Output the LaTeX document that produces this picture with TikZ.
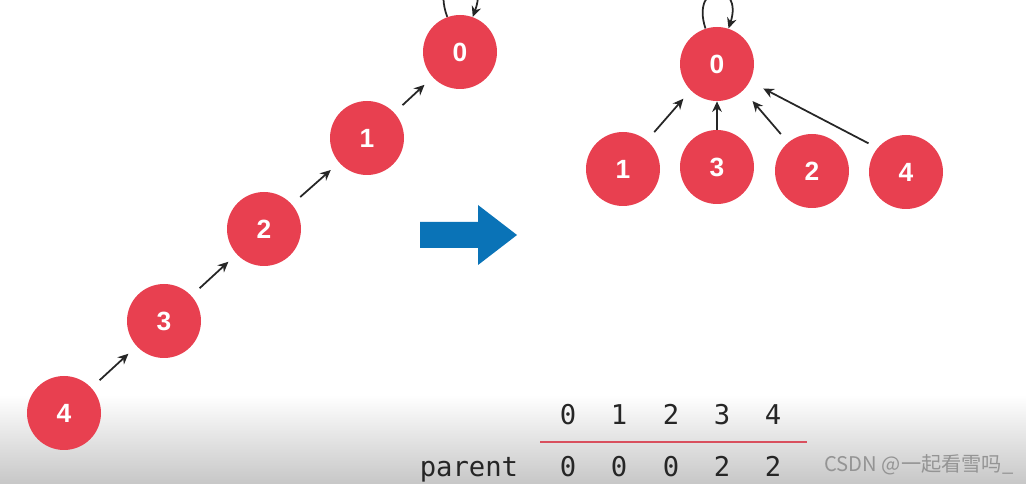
\documentclass[tikz,border=0pt]{standalone}
\usepackage{fontspec}
\setmainfont{Liberation Sans}
\newfontfamily\tablefont{DejaVu Sans Mono}
\newfontfamily\cjkfont{Noto Sans CJK SC}
\usetikzlibrary{arrows.meta}
\definecolor{nodered}{RGB}{232,64,80}
\definecolor{arrowblue}{RGB}{10,115,183}
\definecolor{rulered}{RGB}{217,80,94}
\begin{document}
\begin{tikzpicture}[
  vert/.style={circle, fill=nodered, minimum size=1.48cm, inner sep=0pt,
               text=white, font=\fontsize{15}{15}\selectfont\bfseries},
  arr/.style={draw=black!85, line width=1pt, -{Stealth[length=6pt,width=5.5pt]},
              shorten <=0.22cm, shorten >=0.22cm},
  loopy/.style={draw=black!85, line width=1pt, -{Stealth[length=6pt,width=5.5pt]}},
  idx/.style={anchor=base, font=\tablefont\fontsize{15.5}{15.5}\selectfont, text=black!85},
  bigarrow/.style={fill=arrowblue}
]
\useasboundingbox (0,0) rectangle (20.52,-9.68);

% grey band at the bottom
\shade[top color=white, bottom color=black!22] (0,-7.9) rectangle (20.52,-9.68);

% chain before
\node[vert] (l0) at (9.20,-1.04) {0};
\node[vert] (l1) at (7.34,-2.76) {1};
\node[vert] (l2) at (5.28,-4.58) {2};
\node[vert] (l3) at (3.28,-6.42) {3};
\node[vert] (l4) at (1.28,-8.26) {4};

\foreach \a/\b in {l4/l3, l3/l2, l2/l1, l1/l0} {
  \draw[arr] (\a) -- (\b);
}
\draw[loopy] (l0.110) .. controls +(110:1.15) and +(70:1.15) .. (l0.70);

% big arrow
\fill[bigarrow] (8.40,-4.44) -- (9.56,-4.44) -- (9.56,-4.10) -- (10.34,-4.70)
  -- (9.56,-5.30) -- (9.56,-4.96) -- (8.40,-4.96) -- cycle;

% tree after
\node[vert] (r0) at (14.34,-1.28) {0};
\node[vert] (r1) at (12.46,-3.38) {1};
\node[vert] (r3) at (14.34,-3.34) {3};
\node[vert] (r2) at (16.24,-3.42) {2};
\node[vert] (r4) at (18.12,-3.44) {4};

\draw[arr] (r1.50) -- (r0.225);
\draw[arr, shorten <=0pt, shorten >=0pt] (r3.north) -- (r0.south);
\draw[arr, shorten >=0.28cm] (r2.130) -- (r0.-45);
\draw[arr, shorten <=0.2cm, shorten >=0.3cm] (r4.140) -- (r0.-28);
\draw[loopy] (r0.108) .. controls +(108:1.0) and +(72:1.0) .. (r0.72);

% parent array
\foreach \i/\x in {0/11.36, 1/12.38, 2/13.42, 3/14.44, 4/15.46} {
  \node[idx] (i\i) at (\x,-8.50) {\i};
}
\foreach \i/\x/\v in {0/11.36/0, 1/12.38/0, 2/13.42/0, 3/14.44/2, 4/15.46/2} {
  \node[idx] (p\i) at (\x,-9.52) {\v};
}
\node[idx, anchor=base east, inner sep=0pt] (plabel) at (10.37,-9.52) {parent};
\coordinate (rulel) at (10.80,-8.84);
\coordinate (ruler) at (16.14,-8.84);
\draw[rulered, line width=1.4pt] (rulel) -- (ruler);

% watermark
\node[text=black!42, font=\cjkfont\fontsize{11.5}{11.5}\selectfont] (mark) at (18.38,-9.30)
  {CSDN @一起看雪吗\_};
\end{tikzpicture}
\end{document}
